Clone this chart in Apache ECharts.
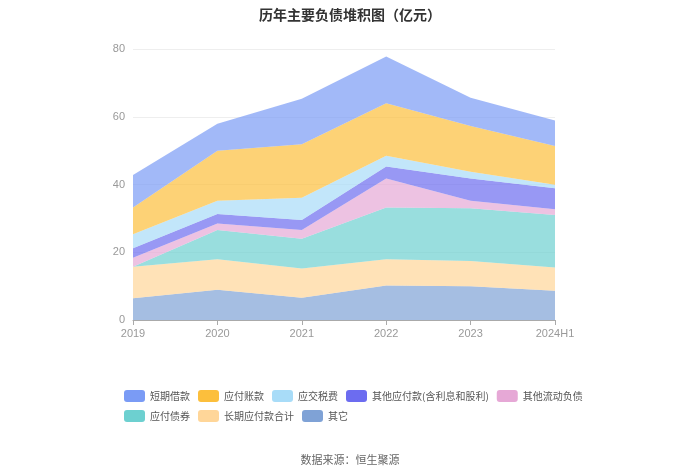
<!DOCTYPE html>
<html><head><meta charset="utf-8">
<script src="https://cdn.jsdelivr.net/npm/echarts@6/dist/echarts.min.js"></script>
<style>html,body{margin:0;padding:0;background:#fff}#c{width:700px;height:474px}</style>
</head><body><div id="c"></div>
<script>
const categories = ['2019','2020','2021','2022','2023','2024H1'];
const seriesNames = ['短期借款','应付账款','应交税费','其他应付款(含利息和股利)','其他流动负债','应付债券','长期应付款合计','其它'];
const shortLoans   = [9.6, 7.9, 13.4, 13.8, 8.3, 7.5];
const payables     = [7.9, 14.8, 15.8, 15.5, 13.5, 11.5];
const taxes        = [4.1, 3.9, 6.6, 3.2, 2.0, 1.0];
const otherPay     = [2.8, 2.8, 2.9, 3.5, 6.6, 6.2];
const otherCurrent = [2.7, 1.9, 2.6, 8.6, 2.2, 1.7];
const bonds        = [0.0, 8.7, 8.8, 15.3, 15.6, 15.5];
const longTerm     = [9.3, 9.0, 8.6, 7.7, 7.4, 6.9];
const others       = [6.4, 8.9, 6.6, 10.2, 10.0, 8.6];
const yTicks = [0, 20, 40, 60, 80];

const colors = ['#7a9bf5','#fcbf3c','#a8dcf8','#6c6cf0','#e6a8d6','#6dd0d0','#ffd699','#7fa2d6'];
const dataByName = {
  '短期借款': shortLoans, '应付账款': payables, '应交税费': taxes,
  '其他应付款(含利息和股利)': otherPay, '其他流动负债': otherCurrent,
  '应付债券': bonds, '长期应付款合计': longTerm, '其它': others
};
// stack from bottom: others first
const order = ['其它','长期应付款合计','应付债券','其他流动负债','其他应付款(含利息和股利)','应交税费','应付账款','短期借款'];
const series = order.map(n => ({
  name: n, type: 'line', stack: 'total', data: dataByName[n],
  symbol: 'none', lineStyle: {width: 0},
  itemStyle: {color: colors[seriesNames.indexOf(n)]},
  areaStyle: {opacity: 0.7, color: colors[seriesNames.indexOf(n)]},
  emphasis: {disabled: true}
}));

const chart = echarts.init(document.getElementById('c'));
chart.setOption({
  animation: false,
  title: [{
    text: '历年主要负债堆积图（亿元）', left: 'center', top: 3,
    textStyle: {fontSize: 14, fontWeight: 'bold', color: '#333', fontFamily: '"Noto Sans CJK SC", sans-serif'}
  }, {
    text: '数据来源：恒生聚源', left: 'center', top: 449,
    textStyle: {fontSize: 11, fontWeight: 'normal', color: '#666', fontFamily: '"Noto Sans CJK SC", sans-serif'}
  }],
  legend: {
    data: seriesNames, left: 124, width: 462, top: 390, itemWidth: 21, itemHeight: 12,
    itemGap: 8, icon: 'roundRect', padding: 0,
    textStyle: {fontSize: 10, color: '#555', fontFamily: '"Noto Sans CJK SC", sans-serif'}
  },
  grid: {left: 133, right: 145, top: 49, bottom: 154},
  xAxis: {
    type: 'category', data: categories, boundaryGap: false,
    axisLine: {lineStyle: {color: '#aaa'}},
    axisTick: {show: true, lineStyle: {color: '#aaa'}},
    axisLabel: {color: '#999', fontSize: 11}
  },
  yAxis: {
    type: 'value', min: 0, max: 80, interval: 20,
    axisLine: {show: false}, axisTick: {show: false},
    axisLabel: {color: '#999', fontSize: 11},
    splitLine: {lineStyle: {color: '#eee'}}
  },
  series: series
});
</script></body></html>
